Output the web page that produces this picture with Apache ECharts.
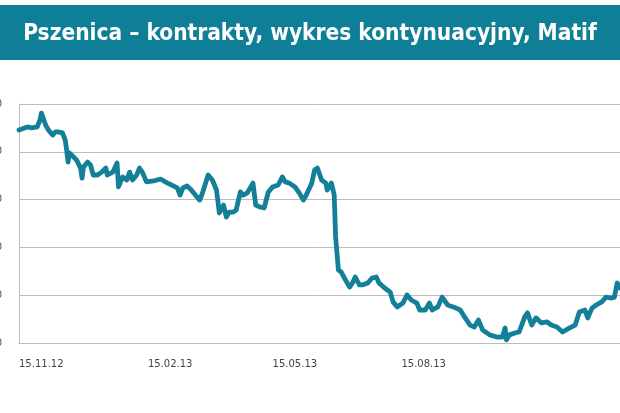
<!DOCTYPE html>
<html>
<head>
<meta charset="utf-8">
<script src="https://cdn.jsdelivr.net/npm/echarts@6/dist/echarts.min.js"></script>
<style>
html,body{margin:0;padding:0;background:#fff;}
#chart{width:620px;height:413px;}
</style>
</head>
<body>
<div id="chart"></div>
<script>
const titleText = 'Pszenica – kontrakty, wykres kontynuacyjny, Matif';
const dates = ['2012-11-15','2012-11-16','2012-11-21','2012-11-24','2012-11-28','2012-11-30','2012-12-01','2012-12-04','2012-12-06','2012-12-09','2012-12-11','2012-12-13','2012-12-16','2012-12-18','2012-12-19','2012-12-20','2012-12-21','2012-12-24','2012-12-26','2012-12-29','2012-12-30','2012-12-31','2013-01-03','2013-01-05','2013-01-07','2013-01-10','2013-01-13','2013-01-16','2013-01-17','2013-01-21','2013-01-24','2013-01-25','2013-01-28','2013-01-31','2013-02-02','2013-02-04','2013-02-07','2013-02-09','2013-02-11','2013-02-14','2013-02-19','2013-02-24','2013-03-01','2013-03-04','2013-03-08','2013-03-10','2013-03-12','2013-03-15','2013-03-18','2013-03-22','2013-03-24','2013-03-26','2013-03-30','2013-04-02','2013-04-05','2013-04-07','2013-04-10','2013-04-12','2013-04-14','2013-04-17','2013-04-19','2013-04-22','2013-04-24','2013-04-27','2013-05-01','2013-05-03','2013-05-06','2013-05-09','2013-05-12','2013-05-15','2013-05-19','2013-05-22','2013-05-24','2013-05-27','2013-05-31','2013-06-03','2013-06-06','2013-06-08','2013-06-12','2013-06-14','2013-06-16','2013-06-19','2013-06-22','2013-06-23','2013-06-26','2013-06-28','2013-06-29','2013-07-01','2013-07-03','2013-07-06','2013-07-09','2013-07-11','2013-07-13','2013-07-16','2013-07-18','2013-07-22','2013-07-25','2013-07-28','2013-07-30','2013-08-03','2013-08-07','2013-08-09','2013-08-12','2013-08-16','2013-08-19','2013-08-22','2013-08-26','2013-08-28','2013-09-01','2013-09-04','2013-09-06','2013-09-10','2013-09-13','2013-09-17','2013-09-21','2013-09-26','2013-09-29','2013-10-03','2013-10-06','2013-10-09','2013-10-12','2013-10-17','2013-10-22','2013-10-26','2013-10-28','2013-10-29','2013-10-31','2013-11-04','2013-11-07','2013-11-11','2013-11-13','2013-11-16','2013-11-19','2013-11-23','2013-11-27','2013-11-30','2013-12-04','2013-12-08','2013-12-13','2013-12-17','2013-12-20','2013-12-24','2013-12-26','2013-12-29','2014-01-01','2014-01-05','2014-01-08','2014-01-12','2014-01-14','2014-01-16','2014-01-18'];
const prices = [269.1,268.7,270.4,270.0,270.4,273.3,276.2,271.2,269.1,267.0,268.3,268.3,267.9,264.9,260.8,255.7,259.5,257.8,256.6,253.2,249.0,253.6,255.7,254.5,250.3,250.3,251.5,253.2,250.3,251.5,255.3,245.3,249.5,248.2,251.5,248.2,250.3,253.2,251.5,247.4,247.8,248.6,246.9,246.1,244.9,241.9,244.9,245.7,244.0,241.1,239.8,242.8,250.3,248.2,244.0,234.4,237.7,232.7,234.8,234.8,235.6,243.2,241.9,242.8,246.9,237.7,236.9,236.5,243.2,245.3,246.1,249.5,247.4,246.9,245.3,242.8,239.8,241.9,246.9,252.4,253.2,248.2,246.9,244.0,246.9,241.9,224.4,210.5,209.7,206.4,203.4,205.1,207.6,204.3,204.3,205.1,207.2,207.6,205.1,203.0,201.3,197.2,195.1,196.7,200.1,198.0,196.7,193.8,193.8,196.7,193.8,195.1,199.2,195.9,195.1,193.8,190.9,187.5,186.7,189.6,185.4,183.4,182.5,182.5,186.3,181.3,183.4,184.2,184.6,190.9,192.6,187.5,190.5,188.4,188.8,187.5,186.7,184.6,186.3,187.5,193.0,193.8,190.5,194.6,195.9,197.2,199.2,198.8,199.2,205.1,203.0];
const tickDates = ['2012-11-15','2013-02-15','2013-05-15','2013-08-15'];
const tickLabels = ['15.11.12','15.02.13','15.05.13','15.08.13'];
const yMin = 180, yMax = 280, yStep = 20;
const xStart = '2012-11-15', xEnd = '2014-01-18';

const toT = d => Date.parse(d + 'T00:00:00Z');
const chart = echarts.init(document.getElementById('chart'), null, {renderer:'canvas'});
const tickTimes = tickDates.map(toT);
const labelMap = {};
tickTimes.forEach((t,i) => labelMap[t] = tickLabels[i]);

chart.setOption({
  animation: false,
  backgroundColor: '#ffffff',
  graphic: [{
    type: 'rect', left: 0, top: 5, z: -1,
    shape: {width: 620, height: 55},
    style: {fill: '#0f7f98'}
  }],
  title: {
    text: titleText,
    left: 'center', top: 18,
    textStyle: {color: '#ffffff', fontFamily: 'DejaVu Sans Condensed', fontWeight: 'bold', fontSize: 22.5}
  },
  grid: {left: 19, right: 0, top: 104, bottom: 70, containLabel: false, outerBoundsMode: 'none'},
  xAxis: {
    type: 'value',
    min: toT(xStart),
    max: toT(xEnd),
    axisLine: {show: true, onZero: false, lineStyle: {color: '#bdbdbd', width: 1}},
    axisTick: {show: false},
    splitLine: {show: false},
    axisLabel: {
      customValues: tickTimes,
      formatter: v => labelMap[v] || '',
      align: 'left', margin: 16,
      color: '#444', fontFamily: 'DejaVu Sans', fontSize: 10
    }
  },
  yAxis: {
    type: 'value', min: yMin, max: yMax, interval: yStep,
    axisLine: {show: true, lineStyle: {color: '#bdbdbd', width: 1}},
    axisTick: {show: false},
    splitLine: {show: true, lineStyle: {color: '#bdbdbd', width: 1}},
    axisLabel: {margin: 17, color: '#555', fontFamily: 'DejaVu Sans', fontSize: 10}
  },
  series: [{
    type: 'line',
    data: dates.map((d,i) => [toT(d), prices[i]]),
    showSymbol: false, symbol: 'none',
    clip: true,
    lineStyle: {color: '#147f98', width: 4.8, cap: 'round', join: 'round'}
  }]
});
</script>
</body>
</html>
